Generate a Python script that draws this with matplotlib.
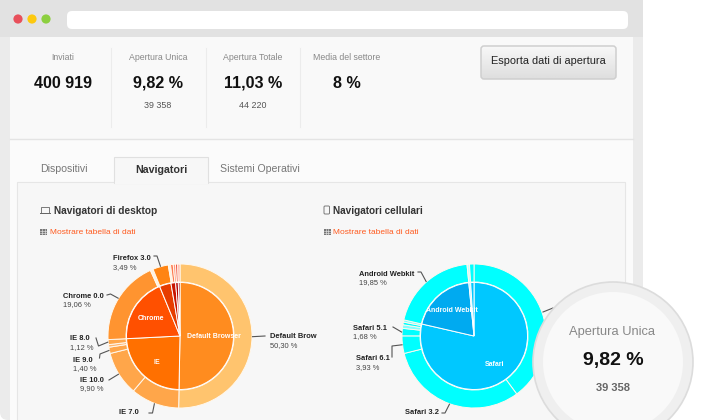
import numpy as np
import matplotlib.pyplot as plt
from matplotlib.patches import Rectangle, FancyBboxPatch, Circle

W, H = 722, 420

plt.rcParams["font.family"] = ["Liberation Sans", "DejaVu Sans"]

# stats row
stat_names = ["Inviati", "Apertura Unica", "Apertura Totale", "Media del settore"]
stat_values = ["400 919", "9,82 %", "11,03 %", "8 %"]
stat_counts = ["", "39 358", "44 220", ""]
stat_x = [63, 158, 253, 347]

tab_names = ["Dispositivi", "Navigatori", "Sistemi Operativi"]
tab_x = [64, 161, 260]

# desktop pie
desk_inner_names = ["Default Browser", "IE", "Chrome", "Firefox", "Other 1", "Other 2", "Other 3"]
desk_inner_vals = [50.30, 23.90, 19.60, 3.49, 1.40, 0.80, 0.51]
desk_inner_cols = ["#ff8c1f", "#ff7000", "#ff5000", "#e63c00", "#c81400", "#b40000", "#a00000"]
desk_outer_vals = [50.30, 10.90, 9.90, 1.40, 0.58, 1.12, 19.06, 0.64, 3.49, 0.50, 0.60, 0.50, 0.50, 0.51]
desk_outer_cols = ["#ffc46e", "#ffa64a", "#ffa64a", "#ffa64a", "#ffb672", "#ffa64a", "#ff9430",
                   "#fff2e0", "#ff8412", "#fff2e0", "#ff7a50", "#ff9a80", "#f05040", "#ffb0a0"]

# mobile pie
mob_inner_vals = [78.60, 19.85, 0.55, 1.00]
mob_inner_cols = ["#00c8ff", "#00aaf0", "#b0ecff", "#00c8ff"]
mob_outer_vals = [39.90, 31.20, 3.93, 1.68, 0.80, 0.60, 0.49, 19.85, 0.55, 1.00]
mob_outer_cols = ["#00ffff", "#00ffff", "#00ffff", "#00ffff", "#80ffff", "#00ffff", "#80ffff",
                  "#00ffff", "#c0ffff", "#00ffff"]

# callouts: name, percent, slice index in the outer ring, label left, label top, leader bends
desk_labels = [
    ("Default Brow", "50,30 %", 0, 270, 337, [(265, 336)]),
    ("IE 7.0", "", 1, 119, 413, [(152.5, 413), (149, 413)]),
    ("IE 10.0", "9,90 %", 2, 80, 380, [(109, 380)]),
    ("IE 9.0", "1,40 %", 3, 73, 360, [(100, 354), (99.5, 358)]),
    ("IE 8.0", "1,12 %", 5, 70, 339, [(98.5, 346), (96, 338)]),
    ("Chrome 0.0", "19,06 %", 6, 63, 296, [(110.5, 294), (107, 295)]),
    ("Firefox 3.0", "3,49 %", 8, 113, 259, [(157, 256), (154, 256)]),
]
mob_labels = [
    ("Safari 3.2", "", 1, 405, 413, [(445, 413), (442, 413)]),
    ("Safari 6.1", "3,93 %", 2, 356, 359, [(392, 346), (392, 357)]),
    ("Safari 5.1", "1,68 %", 3, 353, 328, [(393, 327)]),
    ("Android Webkit", "19,85 %", 7, 359, 274, [(421, 272), (418, 272)]),
]


def Y(py):
    return H - py


def box(ax, x0, y0, x1, y1, fc, ec="none", lw=0, z=1):
    ax.add_patch(Rectangle((x0, Y(y1)), x1 - x0, y1 - y0, fc=fc, ec=ec, lw=lw, zorder=z))


def txt(ax, x, y, s, size, color="#333333", ha="center", weight="normal", z=5):
    ax.text(x, Y(y), s, fontsize=size, color=color, ha=ha, va="center", fontweight=weight, zorder=z)


def draw_pie(ax, cx, cy, outer_vals, outer_cols, inner_vals, inner_cols):
    ax.pie(outer_vals, colors=outer_cols, radius=72, center=(cx, Y(cy)), startangle=90,
           counterclock=False, frame=True,
           wedgeprops=dict(width=18, edgecolor="#fff8ee", linewidth=0.7, zorder=3))
    ax.pie(inner_vals, colors=inner_cols, radius=53.5, center=(cx, Y(cy)), startangle=90,
           counterclock=False, frame=True,
           wedgeprops=dict(edgecolor="#ffffff", linewidth=0.7, zorder=3))


def draw_leaders(ax, cx, cy, labels, outer_vals):
    edges = np.cumsum([0] + list(outer_vals)) / sum(outer_vals) * 2 * np.pi
    for name, pct, idx, lx, ly, bends in labels:
        a = (edges[idx] + edges[idx + 1]) / 2
        xs = [cx + 72.5 * np.sin(a)] + [b[0] for b in bends]
        ys = [cy - 72.5 * np.cos(a)] + [b[1] for b in bends]
        ax.plot(xs, [Y(v) for v in ys], color="#555555", lw=0.8, zorder=4)
        txt(ax, lx, ly, name, 5.4, "#222222", "left", "bold")
        if pct:
            txt(ax, lx, ly + 9, pct, 5.4, "#444444", "left")


def table_icon(ax, x, y):
    box(ax, x, y - 3, x + 7, y + 3, "#777777", z=4)
    for dx in (2.3, 4.6):
        ax.plot([x + dx, x + dx], [Y(y - 3), Y(y + 3)], color="#eeeeee", lw=0.4, zorder=5)
    for dy in (-1, 1):
        ax.plot([x, x + 7], [Y(y + dy), Y(y + dy)], color="#eeeeee", lw=0.4, zorder=5)


def main():
    fig = plt.figure(figsize=(W / 100, H / 100), dpi=100, facecolor="white")
    ax = fig.add_axes([0, 0, 1, 1])
    ax.set_xlim(0, W)
    ax.set_ylim(0, H)

    # browser window
    ax.add_patch(FancyBboxPatch((0, Y(H)), 643, H + 20, boxstyle="round,pad=0,rounding_size=8",
                                fc="#ebebeb", ec="none", zorder=0))
    ax.add_patch(FancyBboxPatch((-10, Y(37)), 653, 60, boxstyle="round,pad=0,rounding_size=8",
                                fc="#e2e2e2", ec="none", zorder=1))
    box(ax, 0, 30, 643, 37, "#e2e2e2", z=1)
    ax.add_patch(FancyBboxPatch((67, Y(29)), 561, 18, boxstyle="round,pad=0,rounding_size=5",
                                fc="white", ec="none", zorder=2))
    for x, c in zip([18, 32, 46], ["#e8505b", "#fdc90f", "#8ccf3f"]):
        ax.add_patch(Circle((x, Y(19)), 4.6, fc=c, ec="none", zorder=2))

    box(ax, 10, 37, 633, 139, "#f9f9f9", z=1)
    box(ax, 10, 139, 633, H, "#fbfbfb", z=1)
    ax.plot([10, 633], [Y(139), Y(139)], color="#e4e4e4", lw=1, zorder=2)

    # stats
    for x in [111, 205.5, 300]:
        ax.plot([x, x], [Y(48), Y(127)], color="#ececec", lw=0.8, zorder=2)
    for x, name, val, cnt in zip(stat_x, stat_names, stat_values, stat_counts):
        txt(ax, x, 57, name, 6.3, "#888888")
        txt(ax, x, 83, val, 11.6, "#111111", weight="bold")
        if cnt:
            txt(ax, x, 106, cnt, 6.4, "#555555")

    # export button with a vertical gradient
    btn = FancyBboxPatch((481, Y(79)), 135, 33, boxstyle="round,pad=0,rounding_size=3",
                         fc="none", ec="#cfcfcf", lw=1.1, zorder=4)
    ax.add_patch(btn)
    grad = np.linspace(0.97, 0.87, 40).reshape(-1, 1)
    im = ax.imshow(grad, extent=(481, 616, Y(79), Y(46)), cmap="gray", vmin=0, vmax=1,
                   aspect="auto", zorder=3)
    im.set_clip_path(btn)
    ax.set_xlim(0, W)
    ax.set_ylim(0, H)
    txt(ax, 548, 61.5, "Esporta dati di apertura", 7.9, "#222222")

    # tabs and panel
    box(ax, 17, 182, 625, H + 5, "#f7f7f7", "#e6e6e6", 0.8, z=1)
    box(ax, 114, 157, 208, 183, "#f7f7f7", "#e0e0e0", 0.8, z=2)
    box(ax, 114.5, 181, 207.5, 184, "#f7f7f7", z=2)
    for i, (x, name) in enumerate(zip(tab_x, tab_names)):
        active = i == 1
        txt(ax, x, 170 if active else 169, name, 7.7 if active else 7.6,
            "#333333" if active else "#777777", weight="bold" if active else "normal")

    # section headers
    txt(ax, 54, 210.5, "Navigatori di desktop", 7.3, "#333333", "left", "bold")
    txt(ax, 333, 210.5, "Navigatori cellulari", 7.2, "#333333", "left", "bold")
    box(ax, 41, 206.5, 49, 212.5, "none", "#666666", 0.6, z=4)
    box(ax, 40, 213, 51, 214, "#666666", z=4)
    ax.add_patch(FancyBboxPatch((324, Y(214)), 5.5, 8, boxstyle="round,pad=0,rounding_size=1",
                                fc="none", ec="#666666", lw=0.6, zorder=4))
    for x_icon, x_link in [(40, 50), (323.5, 333)]:
        table_icon(ax, x_icon, 232)
        txt(ax, x_link, 232, "Mostrare tabella di dati", 6, "#ff5a1e", "left")

    # pies
    draw_pie(ax, 180, 336, desk_outer_vals, desk_outer_cols, desk_inner_vals, desk_inner_cols)
    draw_pie(ax, 474, 336, mob_outer_vals, mob_outer_cols, mob_inner_vals, mob_inner_cols)
    ax.plot([543, 553], [Y(312), Y(308)], color="#555555", lw=0.8, zorder=4)
    draw_leaders(ax, 180, 336, desk_labels, desk_outer_vals)
    draw_leaders(ax, 474, 336, mob_labels, mob_outer_vals)

    for x, y, s in [(214, 337, desk_inner_names[0]), (151, 319, desk_inner_names[2]),
                    (157, 362, desk_inner_names[1]), (452, 311, "Android Webkit"), (495, 364, "Safari")]:
        txt(ax, x, y, s, 5.0, "white", weight="bold")

    # magnifier circle
    ax.add_patch(Circle((613, Y(362)), 80, fc="#efefef", ec="#dcdcdc", lw=1.2, zorder=6))
    ax.add_patch(Circle((613, Y(362)), 70, fc="#f9f9f9", ec="none", zorder=6))
    txt(ax, 612, 332, "Apertura Unica", 9.3, "#888888", z=7)
    txt(ax, 613, 360, "9,82 %", 14, "#111111", weight="bold", z=7)
    txt(ax, 613, 388, "39 358", 8, "#666666", weight="bold", z=7)

    ax.set_xlim(0, W)
    ax.set_ylim(0, H)
    ax.axis("off")
    fig.savefig("out.png", dpi=100)
    plt.close(fig)


if __name__ == "__main__":
    main()
